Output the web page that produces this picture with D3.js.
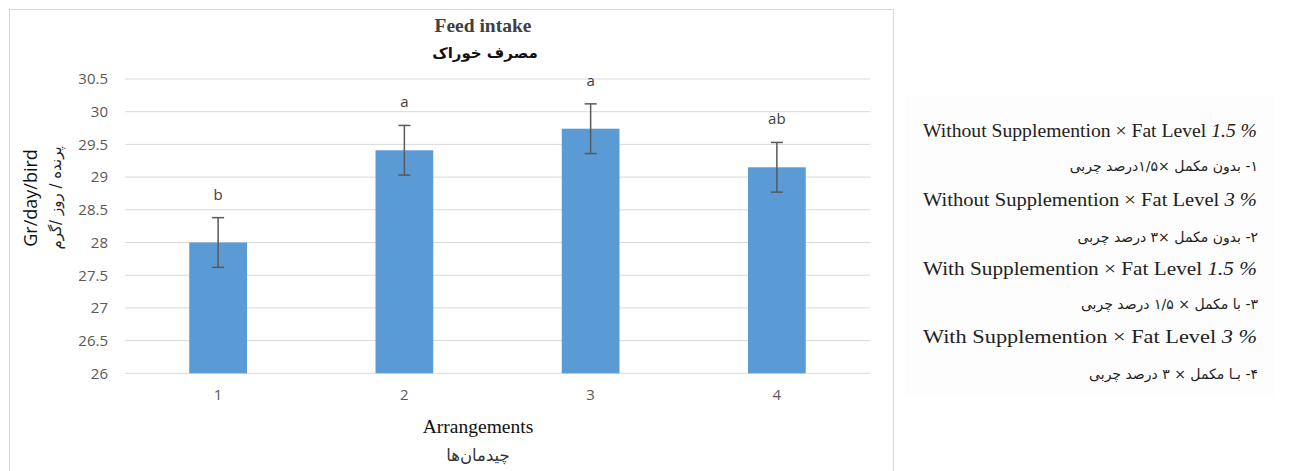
<!DOCTYPE html>
<html><head><meta charset="utf-8">
<script src="https://cdn.jsdelivr.net/npm/d3@7"></script>
<style>
html,body{margin:0;padding:0;background:#fff;}
svg{display:block;}
</style></head>
<body>
<svg id="c" width="1293" height="471"></svg>
<script>
const categories = ["1","2","3","4"];
const means = [28.0, 29.41, 29.74, 29.15];
const errors = [0.38, 0.38, 0.38, 0.38];
const letters = ["b","a","a","ab"];
const yTicks = [26, 26.5, 27, 27.5, 28, 28.5, 29, 29.5, 30, 30.5];
const legendEnText = ["Without Supplemention × Fat Level ","Without Supplemention × Fat Level ","With Supplemention × Fat Level ","With Supplemention × Fat Level "];
const legendEnLevel = ["1.5 %","3 %","1.5 %","3 %"];
const legendFa = ["۱- بدون مکمل ×۱/۵درصد چربی","۲- بدون مکمل ×۳ درصد چربی","۳- با مکمل × ۱/۵ درصد چربی","۴- بـا مکمل × ۳ درصد چربی"];

const svg = d3.select("#c");
const L = 125, R = 870, T = 79, B = 373.3;

// chart frame
svg.append("rect").attr("x",9.5).attr("y",9.5).attr("width",884).attr("height",470)
  .attr("fill","#fff").attr("stroke","#d9d9d9").attr("stroke-width",1);

const x = d3.scaleBand().domain(categories).range([L,R]).paddingInner(0.69).paddingOuter(0.345);
const y = d3.scaleLinear().domain([26,30.5]).range([B,T]);

// gridlines
svg.append("g").selectAll("line").data(yTicks).join("line")
  .attr("x1",L).attr("x2",R).attr("y1",d=>y(d)).attr("y2",d=>y(d))
  .attr("stroke","#d9d9d9").attr("stroke-width",1);

// y axis labels
const yAxis = d3.axisLeft(y).tickValues(yTicks).tickFormat(d=>String(d)).tickSize(0).tickPadding(17);
const ga = svg.append("g").attr("transform",`translate(${L},0)`).call(yAxis);
ga.select(".domain").remove();
ga.selectAll("text").attr("font-family","'Open Sans', sans-serif").attr("font-size",15).attr("fill","#595959");

// x axis labels
const xAxis = d3.axisBottom(x).tickSize(0).tickPadding(16);
const gx = svg.append("g").attr("transform",`translate(0,${B})`).call(xAxis);
gx.select(".domain").remove();
gx.selectAll("text").attr("font-family","'Open Sans', sans-serif").attr("font-size",15).attr("fill","#595959");

const data = categories.map((c,i)=>({c, m:means[i], e:errors[i], l:letters[i]}));

// bars
svg.append("g").selectAll("rect").data(data).join("rect")
  .attr("x",d=>x(d.c)).attr("width",x.bandwidth())
  .attr("y",d=>y(d.m)).attr("height",d=>y(26)-y(d.m))
  .attr("fill","#5b9bd5");

// error bars
const eg = svg.append("g").attr("stroke","#595959").attr("stroke-width",1.5);
data.forEach(d=>{
  const cx = x(d.c)+x.bandwidth()/2;
  eg.append("line").attr("x1",cx).attr("x2",cx).attr("y1",y(d.m+d.e)).attr("y2",y(d.m-d.e));
  eg.append("line").attr("x1",cx-6).attr("x2",cx+6).attr("y1",y(d.m+d.e)).attr("y2",y(d.m+d.e));
  eg.append("line").attr("x1",cx-6).attr("x2",cx+6).attr("y1",y(d.m-d.e)).attr("y2",y(d.m-d.e));
});

// significance letters
svg.append("g").selectAll("text").data(data).join("text")
  .attr("x",d=>x(d.c)+x.bandwidth()/2).attr("y",d=>y(d.m+d.e)-18)
  .attr("text-anchor","middle").attr("font-family","'Open Sans', sans-serif")
  .attr("font-size",15).attr("fill","#404040").text(d=>d.l);

// title
svg.append("text").attr("x",483).attr("y",32).attr("text-anchor","middle")
  .attr("font-family","'Liberation Serif', serif").attr("font-weight","bold")
  .attr("font-size",19.5).attr("fill","#404040").text("Feed intake");
svg.append("text").attr("x",485).attr("y",58).attr("text-anchor","middle")
  .attr("font-family","'DejaVu Sans', sans-serif").attr("font-weight","bold")
  .attr("font-size",15).attr("fill","#111").attr("direction","rtl").text("مصرف خوراک");

// x title
svg.append("text").attr("x",478).attr("y",433).attr("text-anchor","middle")
  .attr("font-family","'Liberation Serif', serif").attr("font-size",19.5).attr("fill","#111").text("Arrangements");
svg.append("text").attr("x",478).attr("y",461).attr("text-anchor","middle")
  .attr("font-family","'DejaVu Sans', sans-serif").attr("font-size",16.5).attr("fill","#333").attr("direction","rtl").text("چیدمان‌ها");

// y title
svg.append("text").attr("transform","translate(37,198) rotate(-90)").attr("text-anchor","middle")
  .attr("font-family","'Open Sans', sans-serif").attr("font-size",18).attr("fill","#111").text("Gr/day/bird");
svg.append("text").attr("transform","translate(61,198) rotate(-90)").attr("text-anchor","middle")
  .attr("font-family","'DejaVu Sans', sans-serif").attr("font-size",15).attr("fill","#222").attr("direction","rtl").text("پرنده / روز /گرم");

// legend panel
svg.append("rect").attr("x",905).attr("y",96).attr("width",370).attr("height",300).attr("fill","#fdfdfd");
const enY = [131, 200, 269, 337];
const faY = [166, 237, 304, 374];
legendEnText.forEach((t,i)=>{
  const tx = svg.append("text").attr("x",923).attr("y",enY[i]+6)
    .attr("font-family","'Liberation Serif', serif").attr("font-size",19).attr("fill","#222")
    .attr("textLength",334).attr("lengthAdjust","spacingAndGlyphs");
  tx.append("tspan").text(t);
  tx.append("tspan").attr("font-style","italic").text(legendEnLevel[i]);
});
legendFa.forEach((t,i)=>{
  svg.append("text").attr("x",1258).attr("y",faY[i]+5).attr("direction","rtl").attr("text-anchor","start")
    .attr("font-family","'DejaVu Sans', sans-serif").attr("font-size",14).attr("fill","#222").text(t);
});
</script>
</body></html>
